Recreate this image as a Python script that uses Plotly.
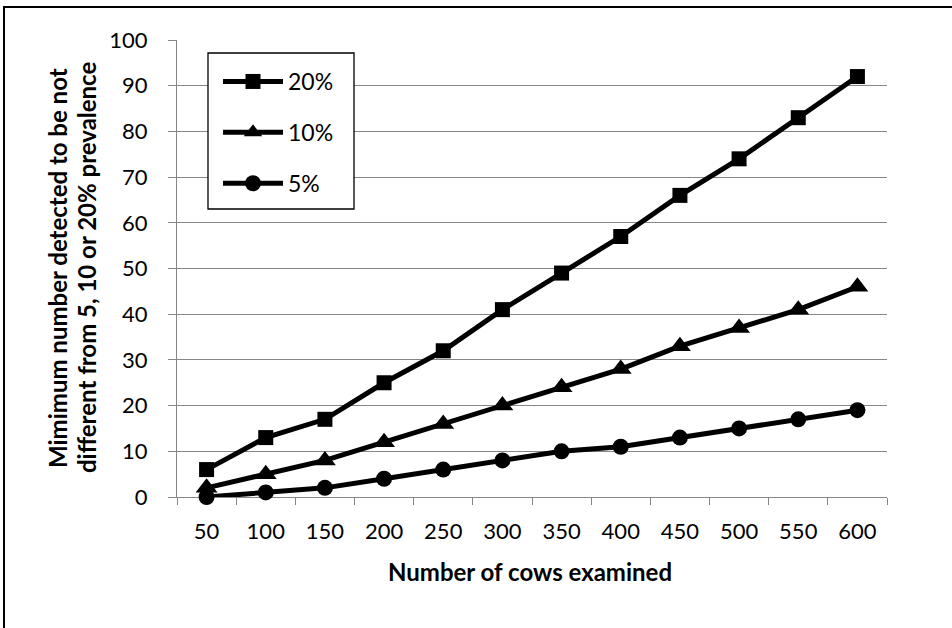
import plotly.graph_objects as go

cows = ["50", "100", "150", "200", "250", "300", "350", "400", "450", "500", "550", "600"]
prev20 = [6, 13, 17, 25, 32, 41, 49, 57, 66, 74, 83, 92]
prev10 = [2, 5, 8, 12, 16, 20, 24, 28, 33, 37, 41, 46]
prev5 = [0, 1, 2, 4, 6, 8, 10, 11, 13, 15, 17, 19]
series_names = ["20%", "10%", "5%"]
y_ticks = list(range(0, 101, 10))

FONT = "Lato"
fig = go.Figure()
symbols = ["square", "triangle-up", "circle"]
sizes = [15, 19, 16]
for name, vals, sym, sz in zip(series_names, [prev20, prev10, prev5], symbols, sizes):
    fig.add_trace(go.Scatter(
        x=cows, y=vals, name=name, mode="lines+markers", legendgroup=name,
        line=dict(color="black", width=5), cliponaxis=False,
        marker=dict(symbol=sym, size=sz, color="black"),
    ))

L, R, T, B = 177, 887, 40, 497
W, H = 952, 628
pw, ph = R - L, B - T

def px(x):
    return (x - L) / pw

def py(y):
    return (B - y) / ph

fig.update_layout(
    width=W, height=H,
    margin=dict(l=L, r=W - R, t=T, b=H - B, pad=0),
    paper_bgcolor="white", plot_bgcolor="white",
    font=dict(family=FONT, size=22, color="black"),
    showlegend=True,
    legend=dict(
        x=px(218), y=py(60), xanchor="left", yanchor="top",
        borderwidth=0, bgcolor="rgba(0,0,0,0)",
        font=dict(family=FONT, size=23, color="black"),
        tracegroupgap=18, itemwidth=60,
    ),
    xaxis=dict(
        type="category", range=[-0.5, 11.5], tickson="boundaries",
        showgrid=False, showline=True, linecolor="#868686", linewidth=1.3,
        ticks="outside", ticklen=7, tickcolor="#868686", tickwidth=1.3,
        tickfont=dict(family=FONT, size=22), ticklabelstandoff=14,
        fixedrange=True, layer="below traces",
    ),
    yaxis=dict(
        range=[0, 100], tickvals=y_ticks, showgrid=True, gridcolor="#868686",
        gridwidth=1.3, showline=True, linecolor="#868686", linewidth=1.3,
        ticks="outside", ticklen=8, tickcolor="#868686", tickwidth=1.3,
        tickfont=dict(family=FONT, size=22), ticklabelstandoff=16,
        zeroline=False, layer="below traces",
    ),
    shapes=[
        dict(type="rect", xref="paper", yref="paper",
             x0=px(4), x1=px(990), y0=py(660), y1=py(7),
             line=dict(color="black", width=2), layer="below"),
        dict(type="rect", xref="paper", yref="paper",
             x0=px(208), x1=px(354), y0=py(209), y1=py(53),
             line=dict(color="black", width=1.3), fillcolor="white", layer="above"),
    ],
    annotations=[
        dict(text="<b>Number of cows examined</b>", xref="paper", yref="paper",
             x=px(530), y=py(571), xanchor="center", yanchor="middle",
             showarrow=False, font=dict(family=FONT, size=24)),
        dict(text="<b>Mimimum number detected to be not</b>", xref="paper", yref="paper",
             x=px(57), y=py(268), xanchor="center", yanchor="middle",
             textangle=-90, showarrow=False, font=dict(family=FONT, size=24)),
        dict(text="<b>different from 5, 10 or 20% prevalence</b>", xref="paper", yref="paper",
             x=px(86), y=py(268), xanchor="center", yanchor="middle",
             textangle=-90, showarrow=False, font=dict(family=FONT, size=24)),
    ],
)

fig.write_html("out.html", config={"displayModeBar": False},
               post_script="document.body.style.margin='0px';")
